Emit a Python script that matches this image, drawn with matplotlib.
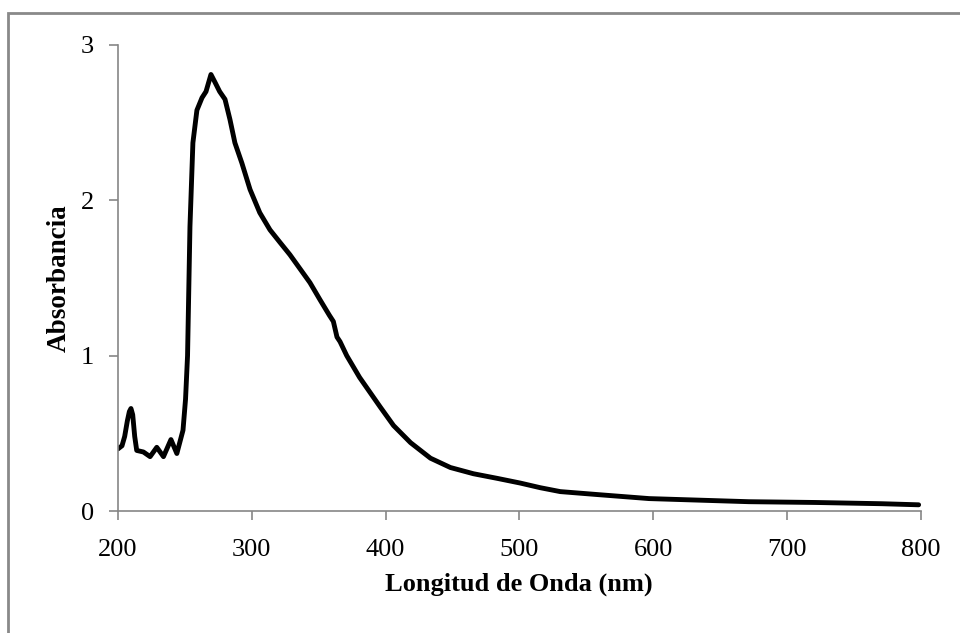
import matplotlib.pyplot as plt
from matplotlib.patches import Rectangle

plt.rcParams['font.family'] = ['Liberation Serif', 'DejaVu Serif']

# wavelength (nm) and absorbance
wl = [200, 203, 205, 207, 208.5, 209.7, 211, 212.5, 214, 219, 224, 229, 234, 239.6, 244,
      248.6, 250.5, 252, 253.8, 256, 259, 262.8, 265.8, 269.5, 272.5, 276, 280, 283.7,
      287.4, 292.6, 298.7, 306, 313.6, 321, 328.5, 336, 343.5, 351, 358, 361, 363.7,
      366, 371, 380.6, 396, 406, 418.7, 433.6, 448.5, 465.7, 483.6, 500.7, 515.7,
      530.6, 559.7, 597, 634.3, 671.6, 721.4, 771, 798.5]
absorb = [0.40, 0.42, 0.48, 0.58, 0.64, 0.66, 0.62, 0.48, 0.39, 0.38, 0.35, 0.41, 0.35,
          0.46, 0.37, 0.52, 0.72, 1.00, 1.83, 2.37, 2.58, 2.66, 2.70, 2.81, 2.76, 2.70,
          2.65, 2.52, 2.37, 2.24, 2.07, 1.92, 1.81, 1.73, 1.65, 1.56, 1.47, 1.36, 1.26,
          1.22, 1.12, 1.09, 1.00, 0.86, 0.67, 0.55, 0.44, 0.34, 0.28, 0.24, 0.21, 0.18,
          0.15, 0.125, 0.105, 0.08, 0.07, 0.06, 0.055, 0.047, 0.04]

fig = plt.figure(figsize=(9.6, 6.33), dpi=100)
ax = fig.add_axes([0.1229, 0.1927, 0.8361, 0.7363])
ax.plot(wl, absorb, color='black', linewidth=3.5, solid_joinstyle='round',
        solid_capstyle='round')

ax.set_xlim(200, 800)
ax.set_ylim(0, 3)
ax.set_xticks([200, 300, 400, 500, 600, 700, 800])
ax.set_yticks([0, 1, 2, 3])
for s in ['top', 'right']:
    ax.spines[s].set_visible(False)
for s in ['left', 'bottom']:
    ax.spines[s].set_color('#868686')
    ax.spines[s].set_linewidth(1.2)
ax.tick_params(direction='out', length=6.5, width=1.2, color='#868686',
               labelsize=19)
ax.tick_params(axis='x', pad=14)
ax.tick_params(axis='y', pad=11)
ax.set_xlabel('Longitud de Onda (nm)', fontsize=19, fontweight='bold', labelpad=8)
ax.set_ylabel('Absorbancia', fontsize=19.5, fontweight='bold', labelpad=6)

fig.patches.append(Rectangle((8 / 960, -0.05), 1.2, 1.05 - 13 / 633,
                             transform=fig.transFigure, fill=False,
                             edgecolor='#898989', linewidth=2))

fig.savefig('out.png', dpi=100)
